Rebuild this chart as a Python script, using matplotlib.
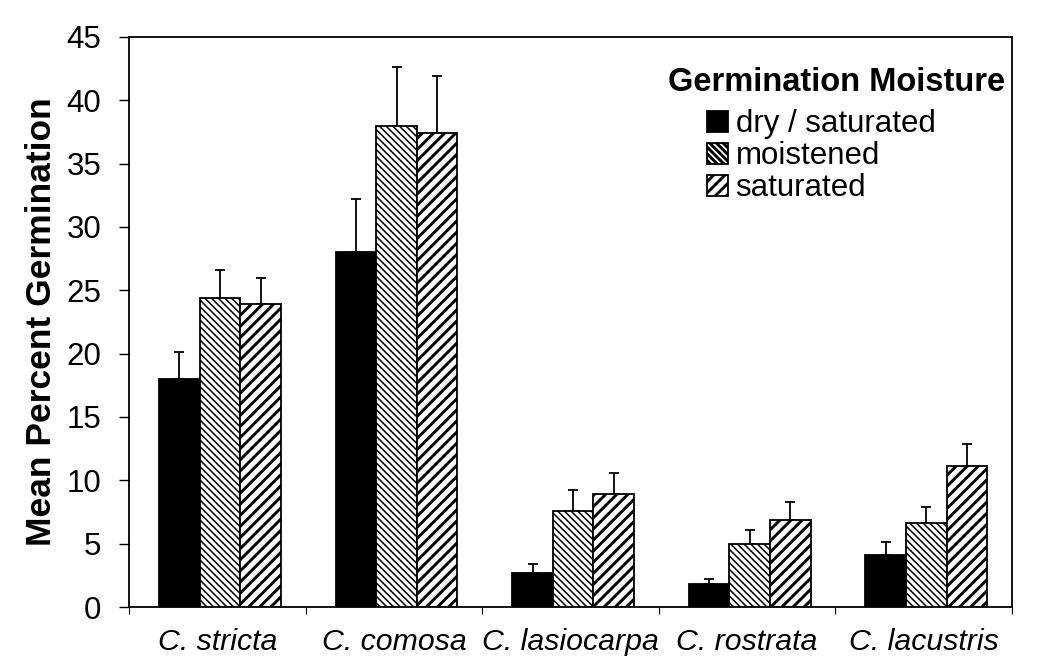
import matplotlib
matplotlib.use("Agg")
import matplotlib.pyplot as plt
import numpy as np

species = ["C. stricta", "C. comosa", "C. lasiocarpa", "C. rostrata", "C. lacustris"]
series_names = ["dry / saturated", "moistened", "saturated"]
dry_sat = [18.0, 28.0, 2.7, 1.8, 4.1]
dry_sat_err = [2.1, 4.2, 0.7, 0.45, 1.0]
moist = [24.4, 38.0, 7.6, 4.95, 6.6]
moist_err = [2.2, 4.6, 1.6, 1.15, 1.3]
sat = [23.9, 37.4, 8.9, 6.9, 11.15]
sat_err = [2.1, 4.5, 1.7, 1.35, 1.7]
yticks = [0, 5, 10, 15, 20, 25, 30, 35, 40, 45]

plt.rcParams['font.family'] = ['Liberation Sans', 'DejaVu Sans']

fig = plt.figure(figsize=(10.47, 6.59), dpi=100)
ax = fig.add_axes([0.1232, 0.0789, 0.8434, 0.865])

x = np.arange(len(species))
w = 0.23
styles = [
    dict(color="black", hatch=None, hlw=1.0),
    dict(color="white", hatch="\\\\\\\\\\", hlw=1.1),
    dict(color="white", hatch="///", hlw=2.1),
]
vals = [dry_sat, moist, sat]
errs = [dry_sat_err, moist_err, sat_err]
handles = []
for i, (v, e, st) in enumerate(zip(vals, errs, styles)):
    plt.rcParams['hatch.linewidth'] = st['hlw']
    b = ax.bar(x + (i - 1) * w + 0.015, v, width=w, color=st['color'], edgecolor="black",
               linewidth=1.3, hatch=st['hatch'], label=series_names[i], zorder=2)
    ax.errorbar(x + (i - 1) * w + 0.015, v, yerr=[np.zeros(len(e)), e], fmt='none',
                ecolor="black", elinewidth=1.3, capsize=3.3, capthick=1.3, zorder=1)
    handles.append(b)

ax.set_xlim(-0.5, 4.5)
ax.set_ylim(0, 45)
ax.set_yticks(yticks)
ax.set_yticklabels([str(t) for t in yticks], fontsize=22.5)
ax.tick_params(axis='y', direction='out', length=7, width=1, pad=13)
ax.set_xticks(x)
ax.set_xticklabels(species, fontsize=21.8, style='italic')
ax.tick_params(axis='x', which='major', length=0, pad=15)
ax.set_xticks(np.arange(-0.5, 5.0, 1.0), minor=True)
ax.tick_params(axis='x', which='minor', direction='out', length=5, width=0.8)
for s in ax.spines.values():
    s.set_linewidth(1.3)

ax.set_ylabel("Mean Percent Germination", fontsize=25.5, fontweight='bold', labelpad=6)

ax.text(0.610, 0.92, "Germination Moisture", transform=ax.transAxes,
        fontsize=23.5, fontweight='bold', ha='left', va='center')
leg = ax.legend(handles=handles, loc='upper left', bbox_to_anchor=(0.655, 0.873),
                frameon=False, fontsize=22.5, handlelength=0.65, handleheight=0.65,
                handletextpad=0.25, labelspacing=0.06, borderpad=0, borderaxespad=0)

fig.savefig("out.png", dpi=100)
